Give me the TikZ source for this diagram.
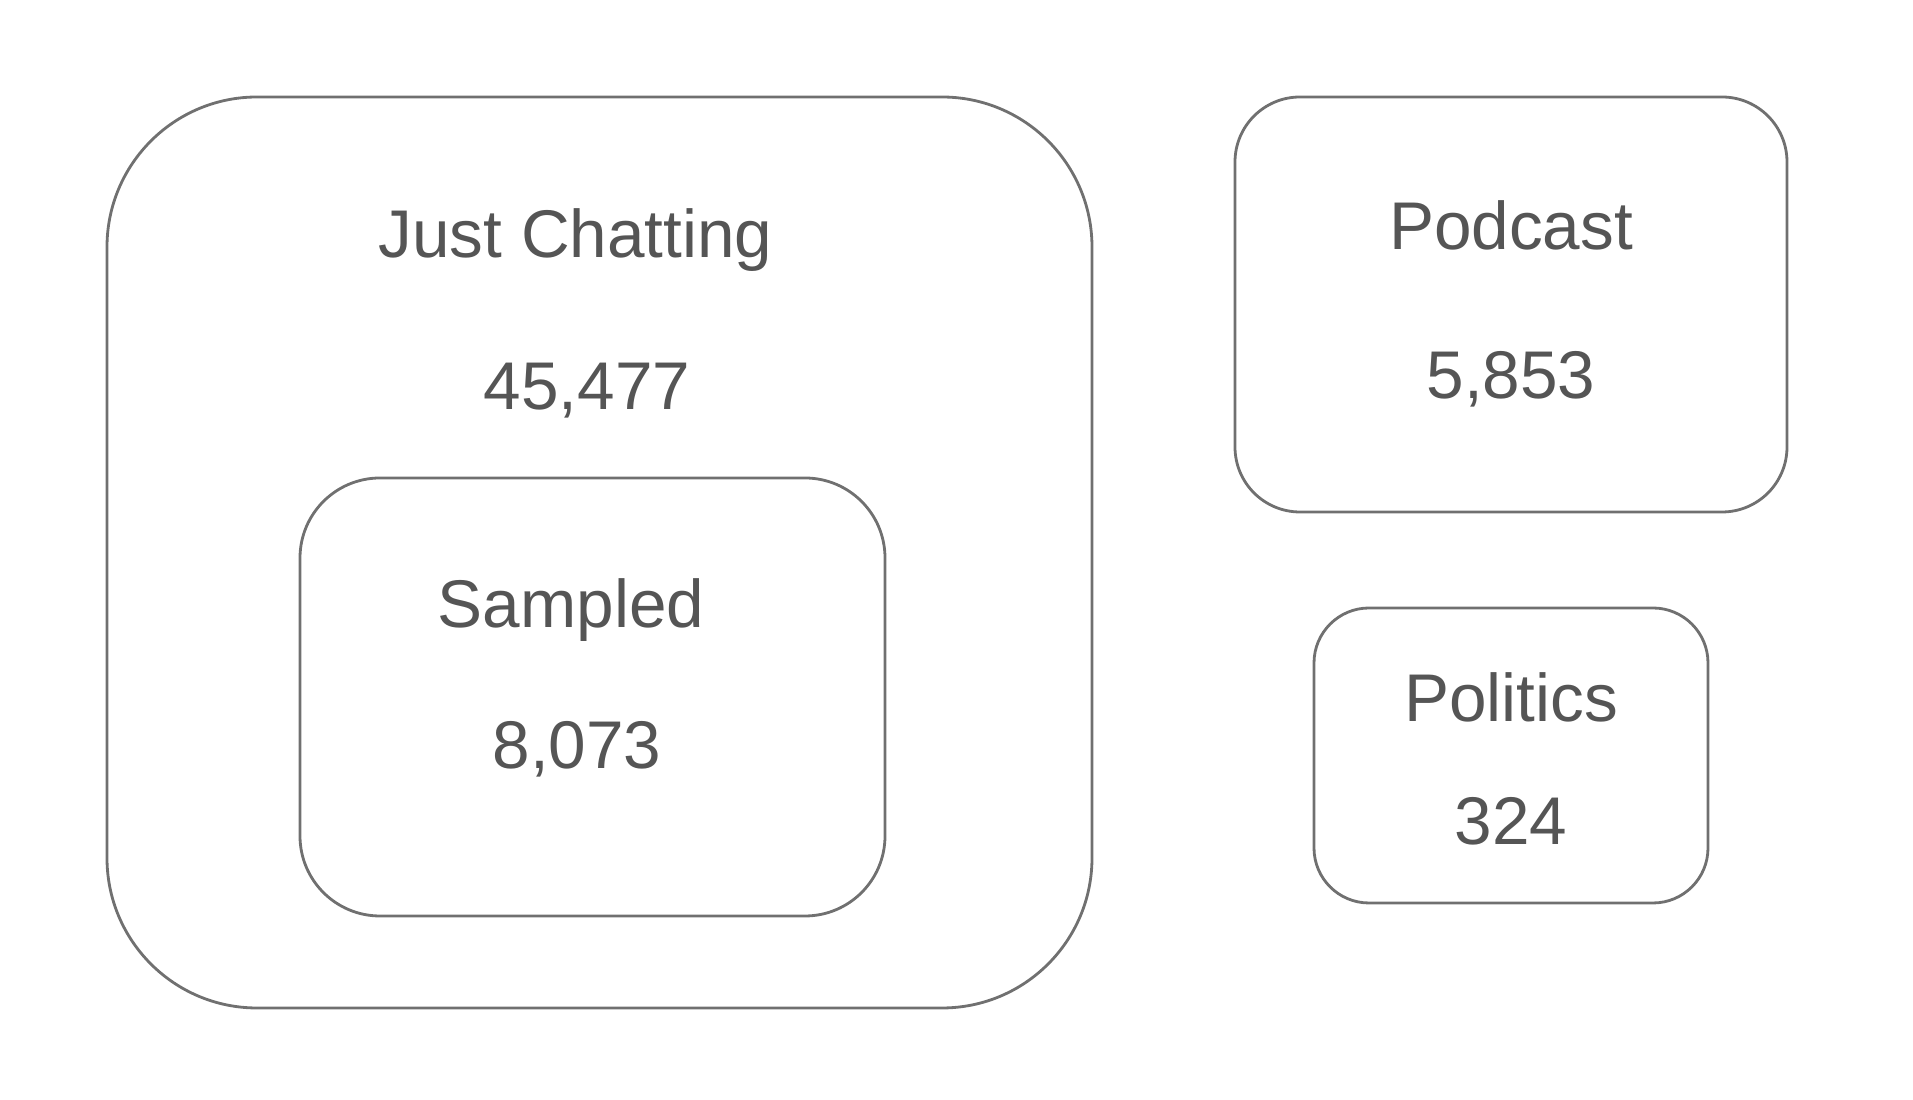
\documentclass[tikz,border=0pt]{standalone}
\usepackage{fontspec}
\setmainfont{Liberation Sans}
\usepackage{tikz}

\definecolor{boxline}{HTML}{707070}
\definecolor{boxtext}{HTML}{555555}

\tikzset{
  setbox/.style={draw=boxline, line width=0.8pt, rounded corners=#1, rectangle},
  setlabel/.style={anchor=base, text=boxtext, inner sep=0pt, font=\fontsize{19.2}{23}\selectfont}
}

\begin{document}
\begin{tikzpicture}
  \useasboundingbox (0,0) rectangle (19.13,11);

  % Just Chatting with the sampled subset inside
  \node[setbox=1.5cm, minimum width=9.85cm, minimum height=9.11cm] (jc) at (5.995,5.475) {};
  \node[setbox=0.8cm, minimum width=5.85cm, minimum height=4.38cm] (sampled) at (5.925,4.03) {};

  \node[setlabel] (jcname) at (5.755,8.42) {Just Chatting};
  \node[setlabel] (jcnum) at (5.87,6.90) {45,477};
  \node[setlabel] (sampledname) at (5.71,4.72) {Sampled};
  \node[setlabel] (samplednum) at (5.77,3.31) {8,073};

  % the other two categories
  \node[setbox=0.65cm, minimum width=5.52cm, minimum height=4.15cm] (podcast) at (15.11,7.955) {};
  \node[setbox=0.55cm, minimum width=3.94cm, minimum height=2.95cm] (politics) at (15.11,3.445) {};

  \node[setlabel] (podcastname) at (15.11,8.50) {Podcast};
  \node[setlabel] (podcastnum) at (15.11,7.01) {5,853};
  \node[setlabel] (politicsname) at (15.11,3.78) {Politics};
  \node[setlabel] (politicsnum) at (15.11,2.55) {324};

\end{tikzpicture}
\end{document}
